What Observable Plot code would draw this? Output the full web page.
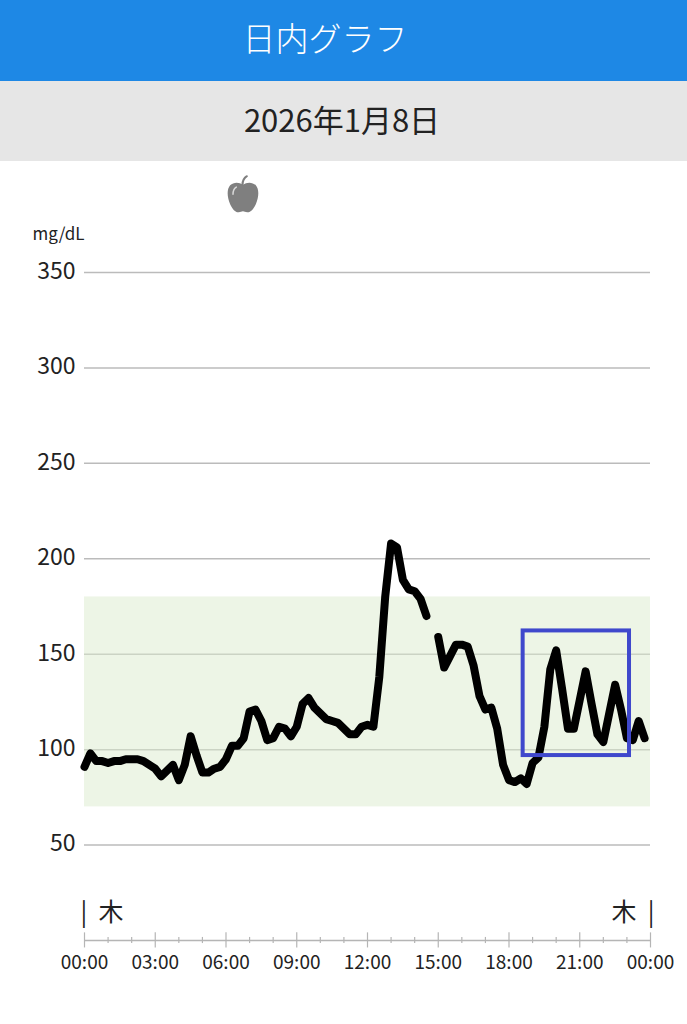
<!DOCTYPE html>
<html lang="ja">
<head>
<meta charset="utf-8">
<script src="https://cdn.jsdelivr.net/npm/d3@7"></script>
<script src="https://cdn.jsdelivr.net/npm/@observablehq/plot@0.6"></script>
<style>
  html, body { margin: 0; padding: 0; background: #fff; font-family: "Noto Sans CJK JP", sans-serif; }
  #wrap { width: 687px; }
  .head { height: 81px; line-height: 74px; background: #1e88e5; color: #fff; font-size: 33px; font-weight: 300; text-align: center; padding-right: 37px; box-sizing: border-box; }
  .date { height: 80px; line-height: 76px; background: #e6e6e6; color: #222; font-size: 31px; text-align: center; padding-right: 3px; box-sizing: border-box; }
  svg { display: block; }
</style>
</head>
<body>
<div id="wrap">
  <div class="head">日内グラフ</div>
  <div class="date">2026年1月8日</div>
  <div id="chart"></div>
</div>
<script>
const glucose = [
  91, 98, 94, 94,
  93, 94, 94, 95,
  95, 95, 94, 92,
  90, 86, 89, 92,
  84, 92, 107, 97,
  88, 88, 90, 91,
  95, 102, 102, 106,
  120, 121, 115, 105,
  106, 112, 111, 107,
  112, 124, 127, 122,
  119, 116, 115, 114,
  111, 108, 108, 112,
  113, 112, 138, 180,
  208, 206, 189, 184,
  183, 179, 170, null,
  159, 143, 149, 155,
  155, 154, 144, 128,
  121, 122, 111, 92,
  84, 83, 85, 82,
  93, 96, 112, 142,
  152, 132, 111, 111,
  126, 141, 124, 108,
  104, 119, 134, 121,
  106, 105, 115, 106
];
const readings = glucose.map((v, i) => ({hour: i / 4, value: v}));
const gridValues = [50, 100, 150, 200, 250, 300, 350];
const majorHours = [0, 3, 6, 9, 12, 15, 18, 21, 24];
const minorHours = d3.range(0, 25).filter(h => h % 3 !== 0);
const targetRange = [{low: 70, high: 180}];
const highlight = [{from: 18.6, to: 23.11, low: 96.9, high: 162.2}];
const meals = [{hour: 6.72, value: 391}];
const dayStart = [{hour: 0, value: 14.5, label: "|\u00A0\u00A0木"}];
const dayEnd = [{hour: 24, value: 14.5, label: "木\u00A0\u00A0|"}];
const unitLabel = [{hour: 0, value: 370, label: "mg/dL"}];
const appleSvg = `<svg xmlns="http://www.w3.org/2000/svg" viewBox="0 0 34 40"><path fill="#7f7f7f" d="M17 10C13 7 7 7 3.500 10.500C-0.500 15 0.500 24 3.500 30.500C6 36 9.500 39.500 12.500 39C14.500 38.700 15.500 37.800 17 37.800C18.500 37.800 19.500 38.700 21.500 39C24.500 39.500 28 36 30.500 30.500C33.500 24 34.500 15 30.500 10.500C27 7 21 7 17 10Z"/><path fill="none" stroke="#7f7f7f" stroke-width="2.200" stroke-linecap="round" d="M16.500 10C16.500 6 18 3 21 1"/><path fill="none" stroke="#d9d9d9" stroke-width="1.600" stroke-linecap="round" d="M6.500 20C6.500 16.500 7.500 14 10 12.500"/></svg>`;
const appleUrl = "data:image/svg+xml;utf8," + encodeURIComponent(appleSvg);
const hourLabel = h => String(h % 24).padStart(2, "0") + ":00";
const font = '"Noto Sans CJK JP", sans-serif';

const chart = Plot.plot({
  width: 687,
  height: 863,
  marginLeft: 84,
  marginRight: 37,
  marginTop: 111,
  marginBottom: 84,
  style: {fontFamily: font, background: "#fff", overflow: "visible"},
  x: {domain: [0, 24]},
  y: {domain: [0, 350]},
  marks: [
    Plot.ruleY(gridValues, {stroke: "#bbb", strokeWidth: 1.5}),
    Plot.rect(targetRange, {x1: () => 0, x2: () => 24, y1: "low", y2: "high", fill: "#dbebcd", fillOpacity: 0.5}),
    Plot.axisY({ticks: gridValues, tickSize: 0, tickPadding: 9, fontSize: 23, dy: -1, fill: "#222", label: null}),
    Plot.ruleY([0], {stroke: "#b5b5b5", strokeWidth: 1.5}),
    Plot.ruleX(majorHours, {y1: -3.9, y2: 4, stroke: "#b5b5b5", strokeWidth: 1.2}),
    Plot.ruleX(minorHours, {y1: -1.6, y2: 1.6, stroke: "#b5b5b5", strokeWidth: 1.2}),
    Plot.axisX({ticks: majorHours, tickSize: 0, tickPadding: 15, tickFormat: hourLabel, fontSize: 19, fill: "#222", label: null}),
    Plot.line(readings, {x: "hour", y: "value", stroke: "#000", strokeWidth: 8, strokeLinejoin: "round", strokeLinecap: "round"}),
    Plot.rect(highlight, {x1: "from", x2: "to", y1: "low", y2: "high", fill: "none", stroke: "#3f48cc", strokeWidth: 4}),
    Plot.text(dayStart, {x: "hour", y: "value", text: "label", textAnchor: "start", dx: -4, fontSize: 25, fill: "#222"}),
    Plot.text(dayEnd, {x: "hour", y: "value", text: "label", textAnchor: "end", dx: 4, fontSize: 25, fill: "#222"}),
    Plot.text(unitLabel, {x: "hour", y: "value", text: "label", textAnchor: "end", fontSize: 17, fill: "#222"}),
    Plot.image(meals, {x: "hour", y: "value", src: () => appleUrl, width: 33, height: 38})
  ]
});
document.getElementById("chart").appendChild(chart);
</script>
</body>
</html>
